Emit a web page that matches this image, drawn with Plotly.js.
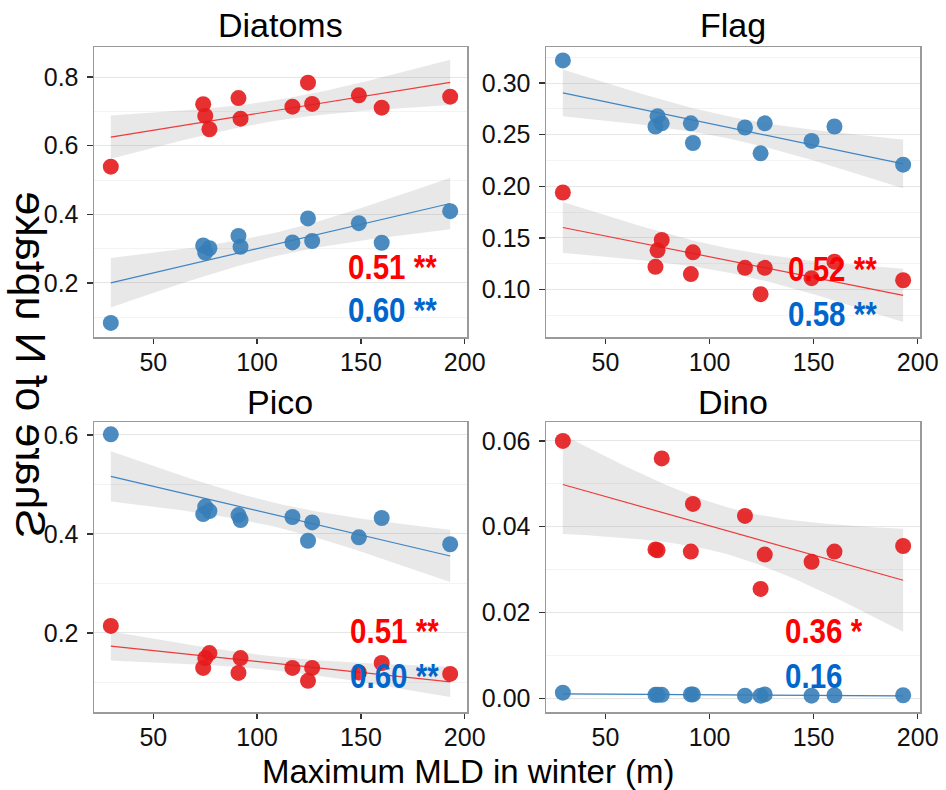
<!DOCTYPE html>
<html><head><meta charset="utf-8">
<script src="https://cdn.plot.ly/plotly-3.0.1.min.js"></script>
<style>html,body{margin:0;padding:0;background:#fff}</style>
</head><body><div id="chart" style="width:946px;height:790px"></div>
<script>
// ---- data ----
const mld = [29.5, 74, 75, 77, 91, 92, 117, 124.5, 126.5, 149, 160, 193];

const diatomsRed  = [0.539, 0.721, 0.687, 0.648, 0.739, 0.679, 0.714, 0.784, 0.722, 0.747, 0.711, 0.743];
const diatomsBlue = [0.083, 0.309, 0.288, 0.301, 0.337, 0.305, 0.318, 0.388, 0.322, 0.374, 0.317, 0.409];

const flagRed  = [0.194, 0.122, 0.138, 0.148, 0.115, 0.136, 0.121, 0.0955, 0.121, 0.111, 0.127, 0.109];
const flagBlue = [0.322, 0.258, 0.268, 0.261, 0.261, 0.242, 0.257, 0.232, 0.261, 0.244, 0.258, 0.221];

const picoRed  = [0.214, 0.129, 0.149, 0.159, 0.119, 0.149, 0.129, 0.103, 0.129, 0.120, 0.139, 0.117];
const picoBlue = [0.601, 0.440, 0.455, 0.446, 0.438, 0.428, 0.434, 0.386, 0.423, 0.393, 0.432, 0.379];

const dinoRed  = [0.0600, 0.0347, 0.0345, 0.0559, 0.0342, 0.0453, 0.0425, 0.0255, 0.0335, 0.0318, 0.0342, 0.0355];
const dinoBlue = [0.0013, 0.0008, 0.0008, 0.0008, 0.0009, 0.0009, 0.0006, 0.0006, 0.0009, 0.0006, 0.0007, 0.0007];

const panelTitles = ["Diatoms", "Flag", "Pico", "Dino"];
const redLabels  = ["0.51 **", "0.52 **", "0.51 **", "0.36 *"];
const blueLabels = ["0.60 **", "0.58 **", "0.60 **", "0.16"];
const xTickVals = [50, 100, 150, 200];
const xTitle = "Maximum MLD in winter (m)";
const yTitle = "Share of N uptake";

// ---- linear model with 95% confidence band (like geom_smooth(method = lm)) ----
const T_CRIT = 2.228; // t(0.975, df = 10)
function fit(x, y) {
  const n = x.length;
  const mx = x.reduce((a, b) => a + b, 0) / n;
  const my = y.reduce((a, b) => a + b, 0) / n;
  let sxx = 0, sxy = 0;
  for (let i = 0; i < n; i++) { sxx += (x[i] - mx) ** 2; sxy += (x[i] - mx) * (y[i] - my); }
  const b = sxy / sxx, a = my - b * mx;
  let sse = 0;
  for (let i = 0; i < n; i++) sse += (y[i] - a - b * x[i]) ** 2;
  const s = Math.sqrt(sse / (n - 2));
  const xmin = Math.min(...x), xmax = Math.max(...x);
  const gx = [], gy = [], lo = [], hi = [];
  const N = 80;
  for (let k = 0; k < N; k++) {
    const xv = xmin + (xmax - xmin) * k / (N - 1);
    const yv = a + b * xv;
    const se = s * Math.sqrt(1 / n + (xv - mx) ** 2 / sxx);
    gx.push(xv); gy.push(yv); lo.push(yv - T_CRIT * se); hi.push(yv + T_CRIT * se);
  }
  return { gx, gy, lo, hi };
}

const RED = "#E41A1C", BLUE = "#377EB8";
const RED_LINE = "#F0393A", BLUE_LINE = "#3F85C4";
const BAND = "rgba(150,150,150,0.22)";

const panels = [
  { red: diatomsRed, blue: diatomsBlue, xa: "x",  ya: "y"  },
  { red: flagRed,    blue: flagBlue,    xa: "x2", ya: "y2" },
  { red: picoRed,    blue: picoBlue,    xa: "x3", ya: "y3" },
  { red: dinoRed,    blue: dinoBlue,    xa: "x4", ya: "y4" }
];

const traces = [];
panels.forEach(p => {
  const series = [[p.red, RED, RED_LINE], [p.blue, BLUE, BLUE_LINE]];
  const fits = series.map(s => fit(mld, s[0]));
  fits.forEach(f => traces.push({
    x: f.gx.concat(f.gx.slice().reverse()), y: f.hi.concat(f.lo.slice().reverse()),
    xaxis: p.xa, yaxis: p.ya, type: "scatter", mode: "lines", fill: "toself",
    fillcolor: BAND, line: { width: 0 }, hoverinfo: "skip", showlegend: false
  }));
  fits.forEach((f, i) => traces.push({
    x: f.gx, y: f.gy, xaxis: p.xa, yaxis: p.ya, type: "scatter", mode: "lines",
    line: { color: series[i][2], width: 1.2 }, hoverinfo: "skip", showlegend: false
  }));
  series.forEach(s => traces.push({
    x: mld, y: s[0], xaxis: p.xa, yaxis: p.ya, type: "scatter", mode: "markers",
    marker: { color: s[1], size: 16, opacity: 0.9, line: { width: 0 } }, showlegend: false
  }));
});

// ---- layout ----
const W = 946, H = 790;
const px = v => v / W, py = v => 1 - v / H;
const xDomL = [px(94), px(467)], xDomR = [px(546), px(920)];
const yDomT = [py(337), py(47)], yDomB = [py(712), py(422)];

const tickFont = { family: "Liberation Sans, Arial, sans-serif", size: 25, color: "#111" };
function xAxis(domain, anchor) {
  return {
    domain, anchor, range: [21.4, 201.1], tickvals: xTickVals, ticks: "outside",
    ticklen: 5, tickwidth: 1.5, tickcolor: "#333", showgrid: false, zeroline: false,
    showline: true, mirror: true, linecolor: "#9a9a9a", linewidth: 1.5, tickfont: tickFont,
    ticklabelstandoff: -3
  };
}
function yAxis(domain, anchor, range, dtick, fmt) {
  return {
    domain, anchor, range, dtick, tick0: 0, tickformat: fmt, ticks: "outside",
    ticklen: 6, tickwidth: 1.5, tickcolor: "#333", showgrid: true, gridcolor: "#e6e6e6",
    gridwidth: 1, zeroline: false, showline: true, mirror: true, linecolor: "#9a9a9a",
    linewidth: 1.5, tickfont: tickFont, ticklabelstandoff: 3,
    minor: { dtick: dtick / 2, tick0: 0, showgrid: true, gridcolor: "#f3f3f3", gridwidth: 1, ticks: "" }
  };
}

const statFont = (c) => ({ family: "Liberation Sans, Arial, sans-serif", size: 36, color: c, weight: "bold" });
const titleFont = { family: "Liberation Sans, Arial, sans-serif", size: 34, color: "#000" };

const titlePos = [[280, 25], [733, 25], [280, 402], [733, 402]];
const redPos  = [[346, 266], [786, 268], [348, 630], [783, 630]];
const bluePos = [[346, 309], [786, 313], [348, 675], [783, 675]];

const annotations = [];
panelTitles.forEach((t, i) => annotations.push({
  text: t, xref: "paper", yref: "paper", x: px(titlePos[i][0]), y: py(titlePos[i][1]),
  xanchor: "center", yanchor: "middle", showarrow: false, font: titleFont
}));
const statIndices = [];
redLabels.forEach((t, i) => { statIndices.push(annotations.length); annotations.push({
  text: t, xref: "paper", yref: "paper", x: px(redPos[i][0]), y: py(redPos[i][1]),
  xanchor: "left", yanchor: "middle", showarrow: false, font: statFont("#FF0000")
}); });
blueLabels.forEach((t, i) => { statIndices.push(annotations.length); annotations.push({
  text: t, xref: "paper", yref: "paper", x: px(bluePos[i][0]), y: py(bluePos[i][1]),
  xanchor: "left", yanchor: "middle", showarrow: false, font: statFont("#0066CC")
}); });
annotations.push({
  text: xTitle, xref: "paper", yref: "paper", x: px(468), y: py(771),
  xanchor: "center", yanchor: "middle", showarrow: false,
  font: { family: "Liberation Sans, Arial, sans-serif", size: 33, color: "#000" }
});
const yTitleIndex = annotations.length;
annotations.push({
  text: yTitle, xref: "paper", yref: "paper", x: px(31), y: py(365),
  xanchor: "center", yanchor: "middle", showarrow: false, textangle: -90,
  font: { family: "Liberation Sans, Arial, sans-serif", size: 43, color: "#000" }
});

const layout = {
  width: W, height: H, margin: { l: 0, r: 0, t: 0, b: 0 },
  paper_bgcolor: "#fff", plot_bgcolor: "#fff", showlegend: false,
  xaxis:  xAxis(xDomL, "y"),
  yaxis:  yAxis(yDomT, "x",  [0.042, 0.888], 0.2, ".1f"),
  xaxis2: xAxis(xDomR, "y2"),
  yaxis2: yAxis(yDomT, "x2", [0.054, 0.335], 0.05, ".2f"),
  xaxis3: xAxis(xDomL, "y3"),
  yaxis3: yAxis(yDomB, "x3", [0.040, 0.626], 0.2, ".1f"),
  xaxis4: xAxis(xDomR, "y4"),
  yaxis4: yAxis(yDomB, "x4", [-0.0032, 0.0644], 0.02, ".2f"),
  annotations
};

Plotly.newPlot("chart", traces, layout, { staticPlot: true }).then(gd => {
  // the reference shows the y title mirrored
  const g = gd.querySelector('.annotation[data-index="' + yTitleIndex + '"]');
  if (g) {
    g.style.transformBox = "fill-box";
    g.style.transformOrigin = "center";
    g.style.transform = "scaleX(-1)";
  }
  // the r-squared labels use a narrow bold face in the reference
  statIndices.forEach(i => {
    const t = gd.querySelector('.annotation[data-index="' + i + '"] text');
    if (t) {
      t.style.transformBox = "fill-box";
      t.style.transformOrigin = "left center";
      t.style.transform = "scaleX(0.82)";
    }
  });
});
</script>
</body></html>
